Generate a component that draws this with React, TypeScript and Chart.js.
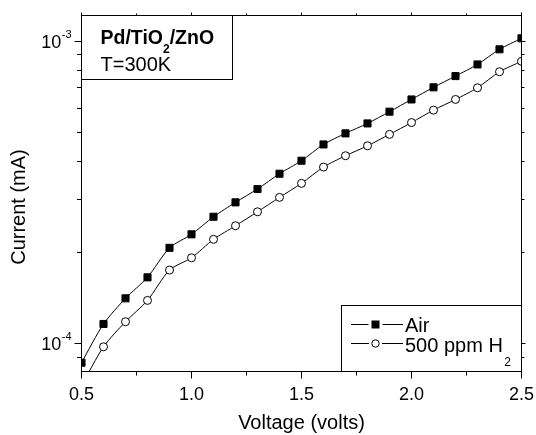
import React, { useEffect, useRef } from "react";
import { Chart, registerables } from "chart.js";

Chart.register(...registerables);

const voltage = [0.5, 0.6, 0.7, 0.8, 0.9, 1.0, 1.1, 1.2, 1.3, 1.4, 1.5, 1.6, 1.7, 1.8, 1.9, 2.0, 2.1, 2.2, 2.3, 2.4, 2.5];
const airCurrent = [8.63e-5, 1.159e-4, 1.409e-4, 1.653e-4, 2.07e-4, 2.294e-4, 2.623e-4, 2.927e-4, 3.24e-4, 3.64e-4, 4.02e-4, 4.55e-4, 4.95e-4, 5.34e-4, 5.84e-4, 6.41e-4, 7.03e-4, 7.66e-4, 8.37e-4, 9.39e-4, 1.021e-3];
const h2Current = [7.25e-5, 9.74e-5, 1.179e-4, 1.387e-4, 1.748e-4, 1.919e-4, 2.208e-4, 2.449e-4, 2.724e-4, 3.04e-4, 3.383e-4, 3.83e-4, 4.175e-4, 4.503e-4, 4.912e-4, 5.376e-4, 5.91e-4, 6.41e-4, 7.006e-4, 7.915e-4, 8.57e-4];

const xMin = 0.5;
const xMax = 2.5;
const yMin = 8.07e-5;
const yMax = 1.215e-3;

const xMajorTicks = [0.5, 1.0, 1.5, 2.0, 2.5];
const xMinorTicks = [0.75, 1.25, 1.75, 2.25];
const yMajorTicks = [1e-4, 1e-3];
const yMajorExponents = ["-4", "-3"];
const yMinorTicks = [9e-5, 2e-4, 3e-4, 4e-4, 5e-4, 6e-4, 7e-4, 8e-4, 9e-4];

const xTitle = "Voltage (volts)";
const yTitle = "Current (mA)";
const seriesNames = ["Air", "500 ppm H"];
const FONT = '"Liberation Sans", Arial, Helvetica, sans-serif';

const decorPlugin = {
  id: "decor",
  afterDraw(chart: any) {
    const ctx: CanvasRenderingContext2D = chart.ctx;
    const a = chart.chartArea;
    const xs = chart.scales.x;
    const ys = chart.scales.y;
    const L = Math.floor(a.left) + 0.5;
    const R = Math.floor(a.right) + 0.5;
    const T = Math.floor(a.top) + 0.5;
    const B = Math.floor(a.bottom) + 0.5;
    ctx.save();
    ctx.strokeStyle = "#000";
    ctx.fillStyle = "#000";
    ctx.lineWidth = 1;

    // frame
    ctx.strokeRect(L, T, R - L, B - T);

    // x ticks
    const xt = (v: number, lenB: number, lenT: number) => {
      const px = Math.floor(xs.getPixelForValue(v)) + 0.5;
      ctx.beginPath();
      ctx.moveTo(px, B);
      ctx.lineTo(px, B + lenB);
      ctx.moveTo(px, T);
      ctx.lineTo(px, T - lenT);
      ctx.stroke();
    };
    xMajorTicks.forEach((v) => xt(v, 7, 3));
    xMinorTicks.forEach((v) => xt(v, 4, 2));

    // y ticks
    const yt = (v: number, lenL: number, lenR: number) => {
      const py = Math.floor(ys.getPixelForValue(v)) + 0.5;
      ctx.beginPath();
      ctx.moveTo(L, py);
      ctx.lineTo(L - lenL, py);
      ctx.moveTo(R, py);
      ctx.lineTo(R + lenR, py);
      ctx.stroke();
    };
    yMajorTicks.forEach((v) => yt(v, 7, 4));
    yMinorTicks.forEach((v) => yt(v, 4.5, 3));

    // x labels
    ctx.font = `18px ${FONT}`;
    ctx.textAlign = "center";
    ctx.textBaseline = "alphabetic";
    xMajorTicks.forEach((v) => {
      ctx.fillText(v.toFixed(1), xs.getPixelForValue(v), a.bottom + 28);
    });

    // y labels with superscripts
    yMajorTicks.forEach((v, i) => {
      const py = ys.getPixelForValue(v);
      const rightX = a.left - 10;
      ctx.font = `11px ${FONT}`;
      ctx.textAlign = "right";
      const supW = ctx.measureText(yMajorExponents[i]).width;
      ctx.fillText(yMajorExponents[i], rightX, py - 3.5);
      ctx.font = `18px ${FONT}`;
      ctx.fillText("10", rightX - supW - 0.5, py + 6.5);
    });

    // axis titles
    ctx.font = `20px ${FONT}`;
    ctx.textAlign = "center";
    ctx.fillText(xTitle, (a.left + a.right) / 2, 429);
    ctx.save();
    ctx.translate(25, 207);
    ctx.rotate(-Math.PI / 2);
    ctx.fillText(yTitle, 0, 0);
    ctx.restore();

    // annotation box
    const bx1 = L, by1 = T, bx2 = 232.5, by2 = 79.5;
    ctx.fillStyle = "#fff";
    ctx.fillRect(bx1, by1, bx2 - bx1, by2 - by1);
    ctx.strokeRect(bx1, by1, bx2 - bx1, by2 - by1);
    ctx.fillStyle = "#000";
    ctx.textAlign = "left";
    ctx.font = `bold 19.5px ${FONT}`;
    let tx = 100.5;
    ctx.fillText("Pd/TiO", tx, 44);
    tx += ctx.measureText("Pd/TiO").width;
    ctx.font = `bold 12px ${FONT}`;
    ctx.fillText("2", tx, 52.5);
    tx += ctx.measureText("2").width;
    ctx.font = `bold 19.5px ${FONT}`;
    ctx.fillText("/ZnO", tx, 44);
    ctx.font = `20px ${FONT}`;
    ctx.fillText("T=300K", 100.5, 71);

    // legend box
    const lx1 = 341.5, ly1 = 305.5;
    ctx.fillStyle = "#fff";
    ctx.fillRect(lx1, ly1, R - lx1, B - ly1);
    ctx.strokeRect(lx1, ly1, R - lx1, B - ly1);
    ctx.fillStyle = "#000";
    const seg = (y: number, mx: number, gap: number) => {
      ctx.beginPath();
      ctx.moveTo(351, y);
      ctx.lineTo(mx - gap, y);
      ctx.moveTo(mx + gap, y);
      ctx.lineTo(403, y);
      ctx.stroke();
    };
    // row 1
    const r1 = 324.5;
    seg(r1, 375.5, 7);
    ctx.fillRect(375.5 - 4, r1 - 4, 8, 8);
    ctx.font = `20px ${FONT}`;
    ctx.fillText(seriesNames[0], 405, 331.5);
    // row 2
    const r2 = 343.5;
    seg(r2, 375.5, 6.5);
    ctx.beginPath();
    ctx.arc(375.5, r2, 3.7, 0, Math.PI * 2);
    ctx.fillStyle = "#fff";
    ctx.fill();
    ctx.stroke();
    ctx.fillStyle = "#000";
    ctx.fillText(seriesNames[1], 405, 351.5);
    const w = ctx.measureText(seriesNames[1]).width;
    ctx.font = `12px ${FONT}`;
    ctx.fillText("2", 405 + w + 1.5, 365.5);

    ctx.restore();
  },
};

export default function App() {
  const ref = useRef<HTMLCanvasElement | null>(null);
  useEffect(() => {
    if (!ref.current) return;
    const chart = new Chart(ref.current, {
      type: "line",
      data: {
        datasets: [
          {
            label: "500 ppm H2",
            data: voltage.map((v, i) => ({ x: v, y: h2Current[i] })),
            borderColor: "#000",
            borderWidth: 1,
            backgroundColor: "#fff",
            pointStyle: "circle",
            pointRadius: 4,
            pointBorderWidth: 1,
            pointBorderColor: "#000",
            pointBackgroundColor: "#fff",
            tension: 0.25,
            clip: 0,
          } as any,
          {
            label: "Air",
            data: voltage.map((v, i) => ({ x: v, y: airCurrent[i] })),
            borderColor: "#000",
            borderWidth: 1,
            backgroundColor: "#000",
            pointStyle: "rect",
            pointRadius: 5,
            pointBorderWidth: 1,
            pointBorderColor: "#000",
            pointBackgroundColor: "#000",
            tension: 0.25,
            clip: 0,
          } as any,
        ],
      },
      options: {
        responsive: false,
        animation: false,
        events: [],
        layout: { padding: { left: 81.5, right: 14.5, top: 15.5, bottom: 63.5 } },
        plugins: { legend: { display: false }, tooltip: { enabled: false } },
        scales: {
          x: { type: "linear", min: xMin, max: xMax, display: false },
          y: { type: "logarithmic", min: yMin, max: yMax, display: false },
        },
      },
      plugins: [decorPlugin],
    });
    return () => chart.destroy();
  }, []);
  return (
    <div style={{ position: "fixed", left: 0, top: 0, width: 536, height: 435, background: "#fff" }}>
      <canvas ref={ref} width={536} height={435} style={{ display: "block" }} />
    </div>
  );
}
